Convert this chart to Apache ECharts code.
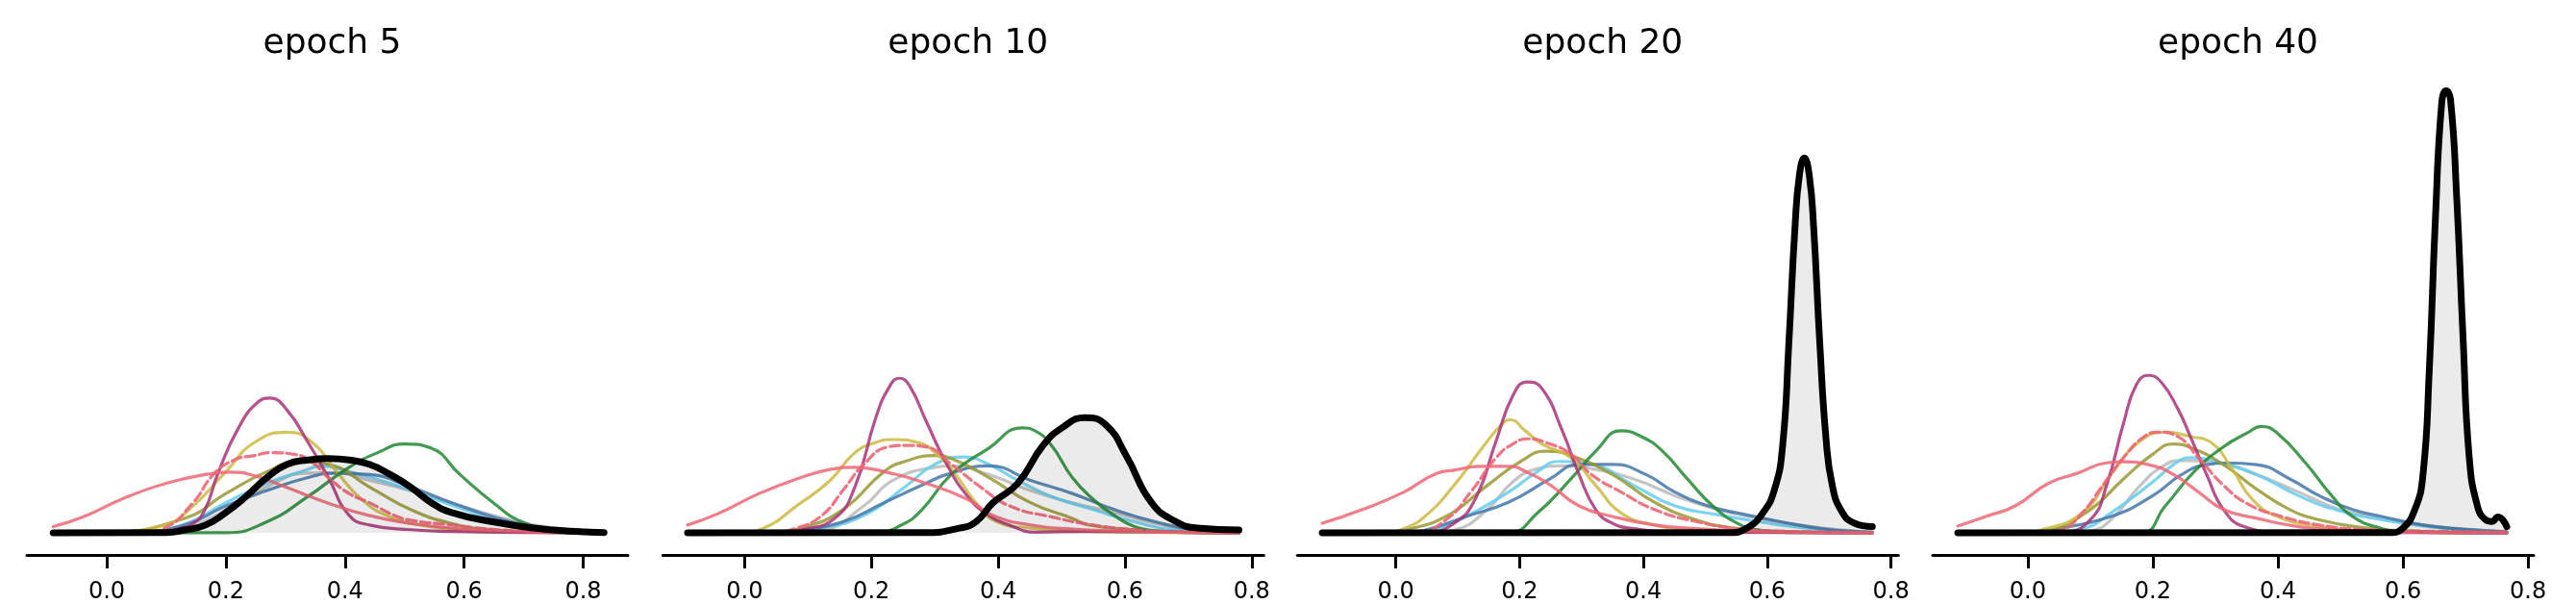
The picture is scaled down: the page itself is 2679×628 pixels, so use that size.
<!DOCTYPE html>
<html><head><meta charset="utf-8">
<script src="https://cdn.jsdelivr.net/npm/echarts@6/dist/echarts.min.js"></script>
<style>html,body{margin:0;padding:0;background:#fff}#c{width:2679px;height:628px}</style>
</head><body><div id="c"></div>
<script>
// ---------- data ----------
const panelTitles = ['epoch 5', 'epoch 10', 'epoch 20', 'epoch 40'];
const tickValues = [0, 0.2, 0.4, 0.6, 0.8];
const xRanges = [[-0.134, 0.875], [-0.129, 0.819], [-0.159, 0.812], [-0.152, 0.809]];
const seriesNames = ['gray', 'cyan', 'blue', 'olive', 'yellow', 'green', 'magenta', 'pink', 'pinkDash', 'black'];

// epoch 5
const e5_pink = [[-0.09,0.43],[-0.04,1.09],[0.03,2.4],[0.1,3.4],[0.165,4.0],[0.207,4.17],[0.25,3.9],[0.30,3.15],[0.37,2.07],[0.44,1.2],[0.51,0.65],[0.58,0.33],[0.65,0.17],[0.74,0.06],[0.835,0.02]];
const e5_pinkDash = [[-0.09,0],[0.06,0.02],[0.097,0.33],[0.145,2.07],[0.179,4.0],[0.214,5.0],[0.248,5.3],[0.276,5.5],[0.317,5.37],[0.345,4.85],[0.372,3.8],[0.407,2.7],[0.441,2.07],[0.483,1.2],[0.51,0.87],[0.579,0.54],[0.614,0.37],[0.683,0.15],[0.75,0.05],[0.835,0]];
const e5_magenta = [[-0.09,0],[0.08,0.05],[0.12,0.3],[0.145,0.65],[0.165,1.6],[0.186,4.0],[0.22,7.1],[0.255,9.0],[0.274,9.24],[0.303,8.4],[0.338,6.2],[0.372,3.8],[0.407,1.2],[0.441,0.54],[0.51,0.22],[0.58,0.1],[0.7,0.03],[0.835,0]];
const e5_yellow = [[-0.09,0],[0.0,0.05],[0.097,0.54],[0.145,1.85],[0.2,4.2],[0.248,6.2],[0.303,6.9],[0.345,6.2],[0.386,4.2],[0.428,2.3],[0.476,1.1],[0.545,0.43],[0.614,0.15],[0.7,0.04],[0.835,0]];
const e5_olive = [[-0.09,0],[0.0,0.05],[0.131,1.0],[0.2,2.7],[0.269,4.2],[0.324,4.9],[0.372,4.7],[0.441,3.15],[0.51,1.6],[0.579,0.65],[0.648,0.2],[0.72,0.06],[0.835,0]];
const e5_green = [[-0.09,0],[0.2,0.02],[0.269,0.76],[0.338,2.5],[0.407,4.5],[0.455,5.5],[0.5,6.1],[0.545,5.8],[0.593,4.0],[0.648,2.1],[0.697,0.76],[0.752,0.22],[0.8,0.03],[0.835,0]];
const e5_blue = [[-0.09,0],[0.05,0.05],[0.131,0.54],[0.2,1.85],[0.269,2.9],[0.338,3.8],[0.386,4.1],[0.441,4.0],[0.51,3.15],[0.579,2.07],[0.648,1.1],[0.717,0.43],[0.786,0.1],[0.835,0.02]];
const e5_cyan = [[-0.09,0],[0.05,0.05],[0.131,0.6],[0.2,2.07],[0.269,3.4],[0.338,4.35],[0.358,4.6],[0.407,4.2],[0.476,3.4],[0.545,2.4],[0.614,1.4],[0.683,0.54],[0.752,0.2],[0.835,0.03]];
const e5_gray = [[-0.09,0],[0.08,0.05],[0.15,0.6],[0.2,1.6],[0.269,3.15],[0.338,4.1],[0.386,4.1],[0.441,3.6],[0.51,2.9],[0.579,2.07],[0.648,1.2],[0.717,0.54],[0.786,0.2],[0.835,0.05]];
const e5_black = [[-0.09,0],[0.1,0.02],[0.131,0.2],[0.166,0.54],[0.2,1.4],[0.234,2.5],[0.269,3.8],[0.303,4.7],[0.338,5.0],[0.372,5.1],[0.407,5.0],[0.441,4.7],[0.476,4.0],[0.51,3.15],[0.545,2.07],[0.579,1.4],[0.648,0.76],[0.717,0.33],[0.786,0.1],[0.835,0.02]];

// epoch 10
const e10_pink = [[-0.09,0.54],[-0.043,1.3],[0.023,2.7],[0.089,3.8],[0.135,4.35],[0.174,4.5],[0.22,4.2],[0.286,3.4],[0.352,2.3],[0.392,1.2],[0.451,0.54],[0.517,0.26],[0.615,0.1],[0.7,0.04],[0.78,0.02]];
const e10_pinkDash = [[-0.09,0],[0.04,0.03],[0.082,0.33],[0.122,1.2],[0.155,2.9],[0.188,4.7],[0.227,5.9],[0.253,6.0],[0.286,5.9],[0.326,4.7],[0.372,3.15],[0.418,1.85],[0.484,1.1],[0.55,0.54],[0.615,0.22],[0.68,0.07],[0.78,0.02]];
const e10_magenta = [[-0.09,0],[0.06,0.03],[0.089,0.2],[0.142,1.0],[0.174,3.15],[0.207,7.9],[0.227,9.9],[0.244,10.6],[0.26,10.1],[0.286,7.7],[0.319,4.7],[0.352,2.5],[0.385,1.2],[0.418,0.54],[0.458,0.05],[0.55,0.1],[0.68,0.05],[0.78,0]];
const e10_yellow = [[-0.09,0],[0.0,0.03],[0.023,0.2],[0.089,2.07],[0.135,3.6],[0.174,5.5],[0.207,6.2],[0.234,6.4],[0.273,6.2],[0.306,5.3],[0.333,4.0],[0.365,2.07],[0.398,0.76],[0.451,0.33],[0.517,0.15],[0.6,0.05],[0.78,0]];
const e10_olive = [[-0.09,0],[0.04,0.03],[0.089,0.33],[0.155,1.6],[0.22,4.2],[0.253,4.9],[0.3,5.3],[0.326,5.1],[0.385,3.8],[0.451,2.07],[0.517,1.0],[0.543,0.54],[0.615,0.22],[0.7,0.05],[0.78,0]];
const e10_green = [[-0.09,0],[0.207,0.02],[0.25,0.6],[0.28,1.6],[0.326,4.0],[0.385,5.8],[0.438,7.2],[0.458,7.0],[0.484,6.0],[0.517,3.8],[0.55,2.3],[0.583,1.2],[0.615,0.43],[0.648,0.15],[0.7,0.03],[0.78,0]];
const e10_blue = [[-0.09,0],[0.04,0.03],[0.089,0.2],[0.155,0.76],[0.22,2.07],[0.286,3.4],[0.319,4.0],[0.385,4.6],[0.451,3.6],[0.517,2.7],[0.583,1.6],[0.648,0.76],[0.714,0.2],[0.78,0.05]];
const e10_cyan = [[-0.09,0],[0.06,0.03],[0.122,0.33],[0.188,1.2],[0.253,3.15],[0.3,4.7],[0.346,5.2],[0.385,4.7],[0.431,3.6],[0.484,2.5],[0.55,1.6],[0.615,0.76],[0.681,0.2],[0.78,0.03]];
const e10_gray = [[-0.09,0],[0.06,0.03],[0.122,0.2],[0.188,1.85],[0.234,3.6],[0.3,4.5],[0.326,4.6],[0.385,4.0],[0.451,2.9],[0.517,2.07],[0.583,1.4],[0.648,0.65],[0.714,0.2],[0.78,0.05]];
const e10_black = [[-0.09,0],[0.286,0.02],[0.339,0.33],[0.365,0.76],[0.392,2.07],[0.431,3.4],[0.471,6.0],[0.504,7.3],[0.537,7.9],[0.57,7.4],[0.602,5.3],[0.642,2.07],[0.681,0.76],[0.714,0.33],[0.78,0.2]];

// epoch 20
const e20_pink = [[-0.119,0.66],[-0.054,1.6],[0.013,2.8],[0.067,4.1],[0.094,4.3],[0.135,4.56],[0.182,4.56],[0.215,4.1],[0.249,3.3],[0.296,1.85],[0.35,1.13],[0.418,0.54],[0.485,0.3],[0.552,0.14],[0.65,0.05],[0.77,0.02]];
const e20_pinkDash = [[-0.119,0],[0.03,0.02],[0.081,0.9],[0.121,2.8],[0.162,5.15],[0.189,6.1],[0.215,6.45],[0.242,6.2],[0.283,5.4],[0.316,4.0],[0.364,2.8],[0.418,1.6],[0.485,0.78],[0.552,0.3],[0.62,0.12],[0.77,0.03]];
const e20_magenta = [[-0.119,0],[0.047,0.02],[0.094,0.66],[0.128,2.3],[0.162,6.3],[0.189,9.4],[0.212,10.35],[0.236,9.9],[0.269,7.0],[0.296,4.0],[0.323,1.6],[0.35,0.66],[0.384,0.3],[0.451,0.07],[0.77,0]];
const e20_yellow = [[-0.119,0],[-0.02,0.02],[0.013,0.3],[0.047,1.13],[0.094,3.26],[0.141,5.9],[0.168,7.3],[0.185,7.75],[0.209,7.0],[0.236,6.1],[0.283,5.15],[0.323,3.26],[0.364,1.37],[0.418,0.54],[0.485,0.19],[0.6,0.04],[0.77,0]];
const e20_olive = [[-0.119,0],[-0.02,0.02],[0.013,0.19],[0.081,1.13],[0.148,3.26],[0.202,4.9],[0.242,5.6],[0.283,5.3],[0.35,4.0],[0.418,2.1],[0.485,0.9],[0.552,0.3],[0.62,0.12],[0.7,0.04],[0.77,0]];
const e20_green = [[-0.119,0],[0.182,0.02],[0.229,1.37],[0.283,3.7],[0.323,5.6],[0.364,7.0],[0.397,6.6],[0.431,5.6],[0.471,3.7],[0.512,1.85],[0.552,0.66],[0.586,0.19],[0.64,0.03],[0.77,0]];
const e20_blue = [[-0.119,0],[0.013,0.03],[0.047,0.19],[0.114,1.13],[0.182,2.1],[0.249,3.7],[0.296,4.7],[0.35,4.7],[0.404,4.0],[0.451,2.8],[0.505,1.85],[0.552,1.37],[0.62,0.78],[0.687,0.3],[0.754,0.07],[0.77,0.05]];
const e20_cyan = [[-0.119,0],[0.03,0.03],[0.067,0.3],[0.114,1.13],[0.182,2.8],[0.229,4.2],[0.263,4.9],[0.316,4.7],[0.384,3.26],[0.451,1.85],[0.519,1.25],[0.586,0.78],[0.653,0.38],[0.72,0.14],[0.77,0.05]];
const e20_gray = [[-0.119,0],[0.06,0.02],[0.094,0.19],[0.148,1.6],[0.189,3.5],[0.229,4.4],[0.269,4.6],[0.316,4.4],[0.384,3.7],[0.451,2.55],[0.519,1.6],[0.586,1.0],[0.653,0.54],[0.72,0.19],[0.77,0.07]];
const e20_black = [[-0.119,0],[0.539,0.02],[0.566,0.3],[0.593,1.37],[0.612,3.0],[0.625,6.0],[0.635,13.0],[0.645,21.0],[0.652,24.5],[0.66,25.7],[0.668,24.5],[0.675,21.0],[0.685,13.0],[0.695,6.5],[0.705,3.3],[0.72,1.5],[0.741,0.66],[0.77,0.43]];

// epoch 40
const e40_pink = [[-0.112,0.47],[-0.067,1.13],[-0.02,1.85],[0.033,3.4],[0.08,4.1],[0.126,4.8],[0.153,4.87],[0.193,4.68],[0.233,4.0],[0.273,2.8],[0.313,1.6],[0.366,1.0],[0.433,0.43],[0.5,0.19],[0.566,0.07],[0.766,0.02]];
const e40_pinkDash = [[-0.112,0],[0.02,0.02],[0.053,0.19],[0.087,1.37],[0.12,3.26],[0.153,5.15],[0.186,6.6],[0.21,6.9],[0.24,6.6],[0.273,5.15],[0.313,3.26],[0.353,1.96],[0.406,1.13],[0.466,0.54],[0.533,0.24],[0.632,0.12],[0.766,0.07]];
const e40_magenta = [[-0.112,0],[0.053,0.02],[0.1,0.9],[0.126,3.26],[0.153,7.5],[0.173,10.1],[0.193,10.8],[0.213,10.35],[0.24,8.5],[0.26,6.6],[0.286,4.0],[0.313,1.6],[0.346,0.43],[0.4,0.07],[0.766,0]];
const e40_yellow = [[-0.112,0],[-0.01,0.02],[0.02,0.19],[0.087,1.37],[0.133,4.0],[0.18,6.3],[0.22,6.9],[0.26,6.6],[0.293,6.2],[0.326,4.44],[0.359,2.3],[0.399,1.13],[0.466,0.43],[0.533,0.14],[0.65,0.03],[0.766,0]];
const e40_olive = [[-0.112,0],[-0.01,0.02],[0.033,0.19],[0.1,1.6],[0.153,3.7],[0.2,5.4],[0.233,6.1],[0.266,5.75],[0.313,4.68],[0.366,3.0],[0.419,1.6],[0.466,0.9],[0.533,0.38],[0.6,0.14],[0.7,0.04],[0.766,0]];
const e40_green = [[-0.112,0],[0.18,0.02],[0.22,1.85],[0.266,4.2],[0.313,5.9],[0.353,6.9],[0.373,7.3],[0.4,6.8],[0.446,4.7],[0.486,2.55],[0.519,1.13],[0.566,0.3],[0.6,0.07],[0.766,0]];
const e40_blue = [[-0.112,0],[0.0,0.02],[0.033,0.19],[0.133,1.13],[0.2,2.55],[0.246,4.0],[0.286,4.68],[0.319,4.8],[0.366,4.68],[0.419,3.7],[0.466,2.55],[0.519,1.6],[0.566,1.13],[0.632,0.54],[0.7,0.24],[0.766,0.07]];
const e40_cyan = [[-0.112,0],[0.02,0.03],[0.087,0.3],[0.133,1.37],[0.2,3.5],[0.233,4.68],[0.26,5.15],[0.3,4.9],[0.366,4.0],[0.433,2.55],[0.499,1.5],[0.566,0.9],[0.632,0.47],[0.7,0.19],[0.766,0.07]];
const e40_gray = [[-0.112,0],[0.06,0.02],[0.1,0.14],[0.133,0.9],[0.18,3.26],[0.22,4.68],[0.246,4.96],[0.3,4.8],[0.366,4.0],[0.433,2.8],[0.499,1.6],[0.566,1.0],[0.632,0.54],[0.7,0.24],[0.766,0.1]];
const e40_black = [[-0.112,0],[0.579,0.02],[0.599,0.3],[0.619,1.6],[0.632,4.0],[0.642,11.1],[0.652,21.7],[0.662,29.5],[0.669,30.3],[0.676,29.7],[0.686,22.9],[0.696,13.4],[0.706,5.15],[0.719,1.85],[0.732,0.9],[0.742,0.78],[0.752,1.09],[0.766,0.43]];

const panelData = [
  {gray:e5_gray, cyan:e5_cyan, blue:e5_blue, olive:e5_olive, yellow:e5_yellow, green:e5_green, magenta:e5_magenta, pink:e5_pink, pinkDash:e5_pinkDash, black:e5_black},
  {gray:e10_gray, cyan:e10_cyan, blue:e10_blue, olive:e10_olive, yellow:e10_yellow, green:e10_green, magenta:e10_magenta, pink:e10_pink, pinkDash:e10_pinkDash, black:e10_black},
  {gray:e20_gray, cyan:e20_cyan, blue:e20_blue, olive:e20_olive, yellow:e20_yellow, green:e20_green, magenta:e20_magenta, pink:e20_pink, pinkDash:e20_pinkDash, black:e20_black},
  {gray:e40_gray, cyan:e40_cyan, blue:e40_blue, olive:e40_olive, yellow:e40_yellow, green:e40_green, magenta:e40_magenta, pink:e40_pink, pinkDash:e40_pinkDash, black:e40_black}
];

// ---------- styles / layout ----------
const styles = {
  gray:    {color:'#BBBBBB', width:3.2, opacity:0.85},
  cyan:    {color:'#66CCEE', width:3.2, opacity:0.85},
  blue:    {color:'#4477AA', width:3.2, opacity:0.85},
  olive:   {color:'#999933', width:3.2, opacity:0.85},
  yellow:  {color:'#CCBB44', width:3.2, opacity:0.85},
  green:   {color:'#228833', width:3.2, opacity:0.85},
  magenta: {color:'#AA3377', width:3.2, opacity:0.85},
  pink:    {color:'#EE6677', width:3.2, opacity:0.85},
  pinkDash:{color:'#EE6677', width:3.2, opacity:0.9, type:[10, 4.5]},
  black:   {color:'#000000', width:7, opacity:1}
};
const gridLefts = [28, 689.3, 1349.3, 2010];
const gridWidth = 625;
const gridTop = 71.6;
const gridHeight = 506.7;
const FONT = 'DejaVu Sans';

const grids = [], xAxes = [], yAxes = [], series = [], titles = [];
for (let p = 0; p < 4; p++) {
  grids.push({left: gridLefts[p], top: gridTop, width: gridWidth, height: gridHeight, containLabel: false});
  xAxes.push({
    type: 'value', gridIndex: p, min: xRanges[p][0], max: xRanges[p][1],
    axisLine: {show: true, onZero: false, lineStyle: {color: '#000', width: 3}},
    axisTick: {show: true, length: 14, customValues: tickValues, lineStyle: {color: '#000', width: 3}},
    axisLabel: {show: true, customValues: tickValues, margin: 27, fontSize: 24, fontFamily: FONT, color: '#000',
                formatter: v => v.toFixed(1)},
    splitLine: {show: false}
  });
  yAxes.push({type: 'value', gridIndex: p, min: -1.51, max: 31.8, show: false, splitLine: {show: false}});
  titles.push({
    text: panelTitles[p], left: gridLefts[p] + gridWidth / 2, top: 23, textAlign: 'center',
    textStyle: {fontFamily: FONT, fontSize: 36, fontWeight: 'normal', color: '#000'}
  });
  seriesNames.forEach((name, k) => {
    const st = styles[name];
    const s = {
      type: 'line', name: name, xAxisIndex: p, yAxisIndex: p,
      data: panelData[p][name], smooth: 0.5,
      symbol: 'none', showSymbol: false, silent: true, animation: false, z: 2 + k,
      lineStyle: {color: st.color, width: st.width, opacity: st.opacity, type: st.type || 'solid', cap: 'round', join: 'round'}
    };
    if (name === 'black') s.areaStyle = {color: 'rgba(0,0,0,0.11)', origin: 0};
    series.push(s);
  });
}

const chart = echarts.init(document.getElementById('c'), null, {renderer: 'canvas'});
chart.setOption({
  backgroundColor: '#ffffff',
  animation: false,
  title: titles,
  grid: grids, xAxis: xAxes, yAxis: yAxes, series: series
});
</script></body></html>
